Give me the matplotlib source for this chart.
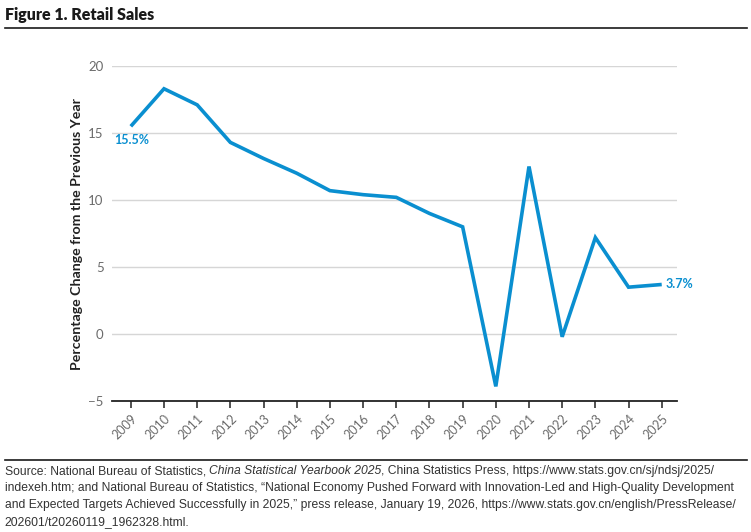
import matplotlib
matplotlib.use("Agg")
import matplotlib.pyplot as plt
from matplotlib.lines import Line2D
from matplotlib.transforms import offset_copy

# ---- data ---------------------------------------------------------------
years = [2009, 2010, 2011, 2012, 2013, 2014, 2015, 2016, 2017,
         2018, 2019, 2020, 2021, 2022, 2023, 2024, 2025]
retail_growth = [15.5, 18.3, 17.1, 14.3, 13.1, 12.0, 10.7, 10.4, 10.2,
                 9.0, 8.0, -3.9, 12.5, -0.2, 7.2, 3.5, 3.7]
y_ticks = [-5, 0, 5, 10, 15, 20]

title = "Figure 1. Retail Sales"
y_label = "Percentage Change from the Previous Year"
# each line as (text, italic) pieces
source_lines = [
    [("Source: National Bureau of Statistics, ", False),
     ("China Statistical Yearbook 2025", True),
     (", China Statistics Press, https://www.stats.gov.cn/sj/ndsj/2025/", False)],
    [("indexeh.htm; and National Bureau of Statistics, \u201cNational Economy Pushed "
      "Forward with Innovation-Led and High-Quality Development", False)],
    [("and Expected Targets Achieved Successfully in 2025,\u201d press release, "
      "January 19, 2026, https://www.stats.gov.cn/english/PressRelease/", False)],
    [("202601/t20260119_1962328.html.", False)],
]

BLUE = "#0a8fd0"
GREY_TXT = "#6b6b6b"

fig = plt.figure(figsize=(7.51, 5.32), dpi=100)
ax = fig.add_axes([0.149, 0.246, 0.752, 0.630])

ax.plot(years, retail_growth, color=BLUE, linewidth=2.6,
        solid_joinstyle="miter", solid_capstyle="butt", zorder=3)

ax.set_xlim(2008.43, 2025.45)
ax.set_ylim(-5, 20)
ax.set_yticks(y_ticks)
ax.set_yticklabels(["\u22125" if v < 0 else str(v) for v in y_ticks])
ax.set_xticks(years)
ax.set_xticklabels([str(y) for y in years], rotation=45, ha="right",
                   rotation_mode="anchor")

ax.grid(axis="y", color="#d6d6d6", linewidth=1.0)
ax.set_axisbelow(True)
for side in ["top", "right", "left"]:
    ax.spines[side].set_visible(False)
ax.spines["bottom"].set_color("#222222")
ax.spines["bottom"].set_linewidth(1.3)
ax.spines["bottom"].set_zorder(4)

ax.tick_params(axis="y", length=0, labelsize=9.5, labelcolor=GREY_TXT, pad=6)
ax.tick_params(axis="x", length=5, width=1.1, color="#222222",
               labelsize=9, labelcolor=GREY_TXT, pad=3)
for lab in ax.get_xticklabels() + ax.get_yticklabels():
    lab.set_family("Lato")

ax.set_ylabel(y_label, fontsize=10.2, fontweight="bold", labelpad=4,
              family="Lato", color="#222222")

# end-point labels
ax.annotate(f"{retail_growth[0]}%", (years[0], retail_growth[0]),
            xytext=(-12, -10), textcoords="offset points",
            color=BLUE, fontsize=9, fontweight="bold", family="Lato",
            ha="left", va="center")
ax.annotate(f"{retail_growth[-1]}%", (years[-1], retail_growth[-1]),
            xytext=(3, 0), textcoords="offset points",
            color=BLUE, fontsize=9, fontweight="bold", family="Lato",
            ha="left", va="center")

# ---- title and rules ----------------------------------------------------
fig.text(0.006, 0.972, title, fontsize=11.5, fontweight="heavy",
         family="Lato", color="#1a1a1a", va="center", ha="left")
fig.add_artist(Line2D([0.006, 0.995], [0.947, 0.947], color="#1a1a1a",
                      linewidth=1.2, transform=fig.transFigure))
fig.add_artist(Line2D([0.006, 0.995], [0.135, 0.135], color="#1a1a1a",
                      linewidth=1.2, transform=fig.transFigure))

# ---- source note, piece by piece so the book title can be italic --------
renderer = fig.canvas.get_renderer()
line_tops_px = [471, 488, 505, 522]
for pieces, y_px in zip(source_lines, line_tops_px):
    x_off = 0.0
    for txt, italic in pieces:
        tr = offset_copy(fig.transFigure, fig=fig, x=x_off, units="dots")
        t = fig.text(0.006, 1 - y_px / 532, txt, fontsize=8.75,
                     family="Liberation Sans", color="#333333",
                     style="italic" if italic else "normal",
                     va="center", ha="left", transform=tr)
        x_off += t.get_window_extent(renderer).width

fig.savefig("out.png", dpi=100, facecolor="white")
